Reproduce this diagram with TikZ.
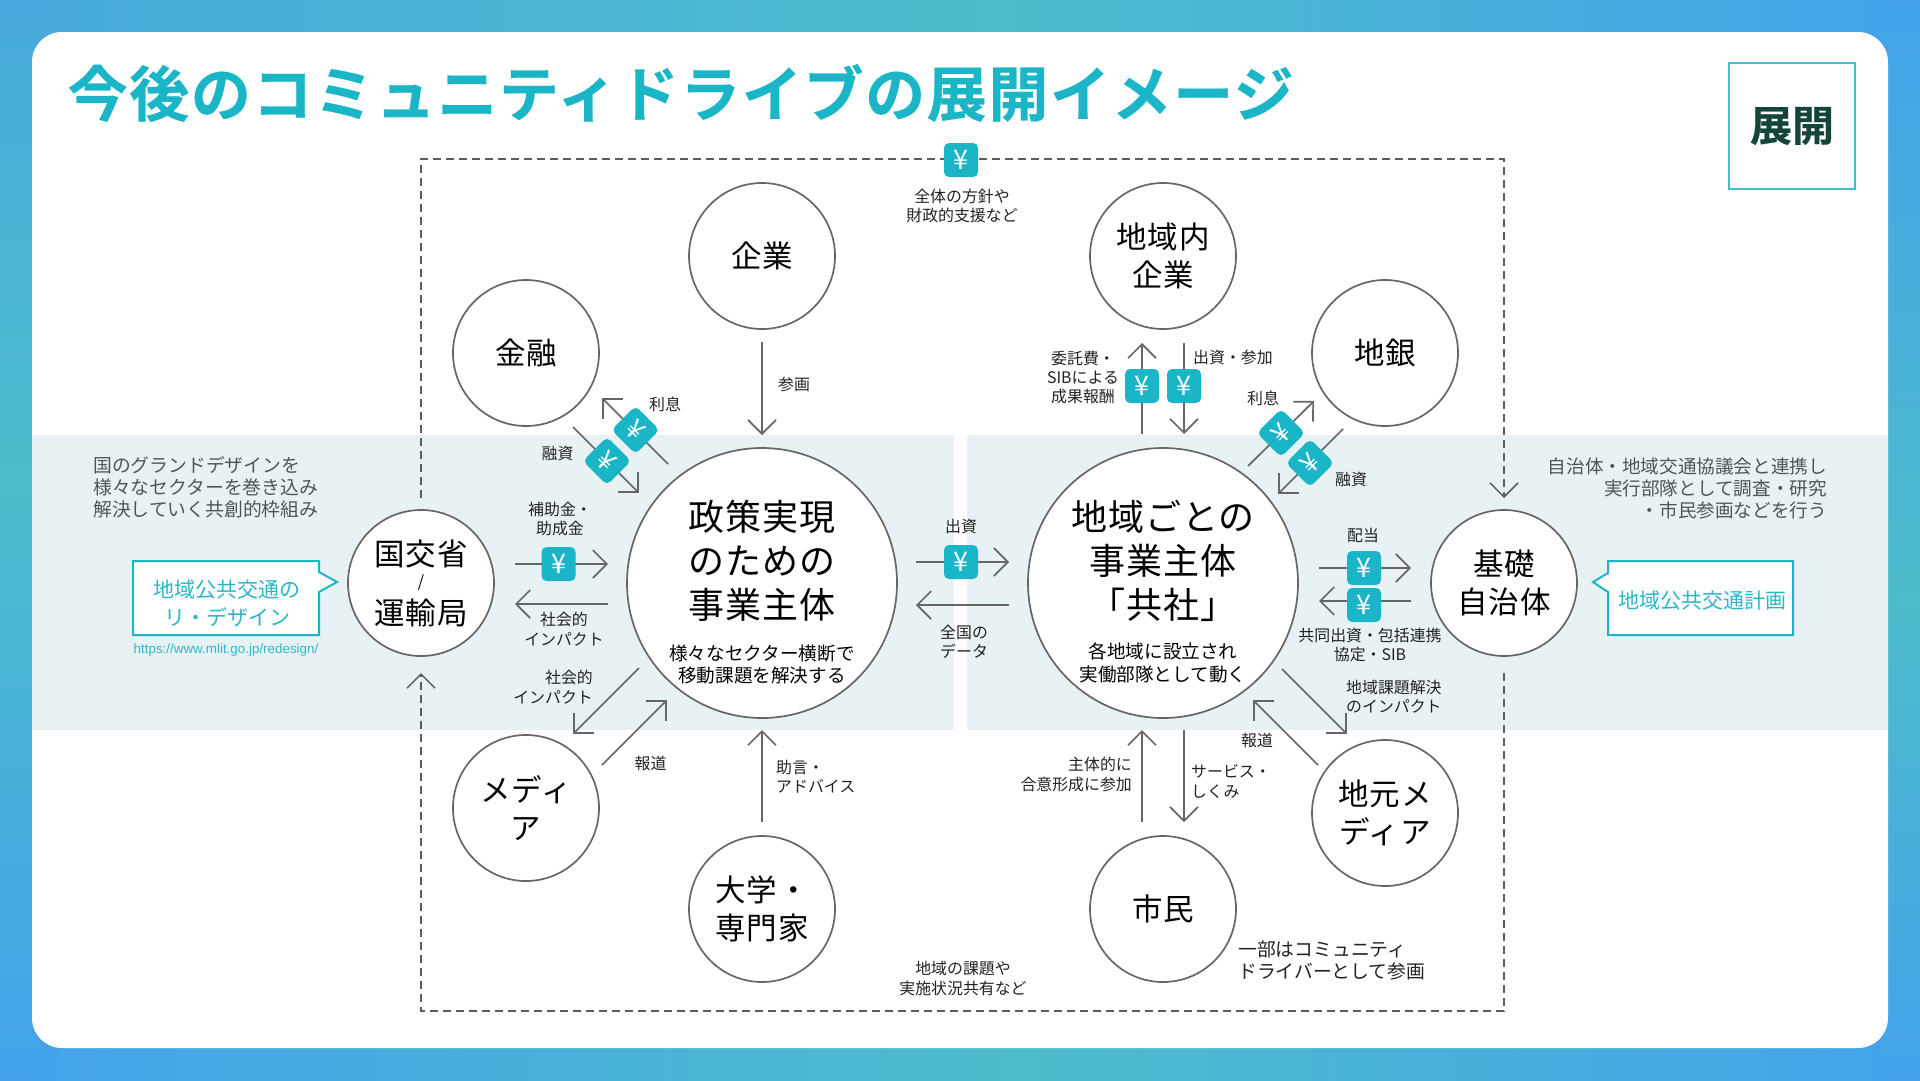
\documentclass[tikz,border=0pt]{standalone}
\usepackage{fontspec}
\setmainfont{Noto Sans CJK JP}
\newfontfamily\titlefont[LetterSpace=2.7,FakeBold=0.4]{Noto Sans CJK JP Bold}
\newfontfamily\tagfont[FakeBold=0.5]{Noto Sans CJK JP Bold}
\newfontfamily\widefont[LetterSpace=3]{Noto Sans CJK JP}
\newfontfamily\urlfont{Liberation Sans}
\usetikzlibrary{arrows.meta,shapes.geometric}
\definecolor{teal1}{HTML}{1AB5C6}
\definecolor{tealtext}{HTML}{2BB7C8}
\definecolor{bandc}{HTML}{E8F2F4}
\definecolor{linec}{HTML}{666666}
\definecolor{darkg}{HTML}{14453A}
\definecolor{labelc}{HTML}{222222}
\definecolor{descc}{HTML}{4F5558}
\definecolor{bgblue}{HTML}{43A2EA}
\definecolor{bgteal}{HTML}{4DBCCB}
\definecolor{bgmid}{HTML}{48AADC}
\newcommand{\fs}[2]{\fontsize{#1}{#2}\selectfont}
\tikzset{
  link/.style={draw=linec,line width=1.7pt,-{Straight Barb[length=14pt,width=28pt]}},
  frame/.style={draw=linec!90!black,line width=1.5pt,dash pattern=on 8pt off 5pt},
  smallc/.style={circle,draw=linec,line width=1.7pt,fill=white,minimum size=146pt,inner sep=0pt,outer sep=0pt,align=center,font=\widefont\fs{30.5}{38},text=black},
  bigc/.style={circle,draw=linec,line width=1.7pt,fill=white,minimum size=270pt,inner sep=0pt,outer sep=0pt},
  bigtxt/.style={inner sep=0pt,align=center,font=\widefont\fs{36}{44},text=black},
  subtxt/.style={inner sep=0pt,align=center,font=\fs{18.6}{22.5},text=black},
  yenbox/.style={rectangle,rounded corners=5pt,fill=teal1,minimum size=34pt,inner sep=0pt,text=white,font=\fs{27}{27}},
  lab/.style={inner sep=0pt,align=center,font=\fs{15.9}{19.4},text=labelc},
  labl/.style={lab,align=left,anchor=west},
  labr/.style={lab,align=right,anchor=east},
  desc/.style={inner sep=0pt,font=\fs{18.8}{22},text=descc},
  callout/.style={draw=teal1,line width=2pt,fill=white,line join=miter},
  calltxt/.style={inner sep=0pt,align=center,font=\fs{21}{28},text=tealtext},
}
\newcommand{\arrowlink}[3]{\coordinate (#1s) at (#2); \coordinate (#1e) at (#3); \draw[link] (#1s) -- (#1e);}
\begin{document}
\begin{tikzpicture}[x=1pt,y=-1pt]
\useasboundingbox (0,0) rectangle (1920,1080);
% background
\fill[bgteal] (0,0) rectangle (1920,1080);
\shade[left color=bgmid,right color=bgteal] (0,0) rectangle (1000,40);
\shade[left color=bgteal,right color=bgblue] (1000,0) rectangle (1920,40);
\shade[left color=bgblue,right color=bgteal] (0,1040) rectangle (1020,1080);
\shade[left color=bgteal,right color=bgblue] (1020,1040) rectangle (1920,1080);
\shade[top color=bgmid,bottom color=bgteal] (0,0) rectangle (40,480);
\shade[top color=bgteal,bottom color=bgblue] (0,480) rectangle (40,1080);
\shade[top color=bgblue,bottom color=bgteal] (1880,0) rectangle (1920,600);
\shade[top color=bgteal,bottom color=bgblue] (1880,600) rectangle (1920,1080);
% card
\fill[white,rounded corners=30pt] (32,32) rectangle (1888,1048);
% bands
\fill[bandc] (32,435) rectangle (954,730);
\fill[bandc] (967,435) rectangle (1888,730);
% dashed frame
\coordinate (fa) at (421,498);
\coordinate (fb) at (421,159);
\coordinate (fc) at (1504,159);
\coordinate (fd) at (1504,498);
\coordinate (fe) at (1504,673);
\coordinate (ff) at (1504,1011);
\coordinate (fg) at (421,1011);
\coordinate (fh) at (421,673);
\draw[frame,-{Straight Barb[length=14pt,width=28pt]}] (fa) -- (fb) -- (fc) -- (fd);
\draw[frame,-{Straight Barb[length=14pt,width=28pt]}] (fe) -- (ff) -- (fg) -- (fh);
% connectors
\arrowlink{a1}{762,342}{762,435}
\arrowlink{a2}{762,822}{762,730}
\arrowlink{a3}{573,427}{639,493}
\arrowlink{a4}{668,464}{602,398}
\arrowlink{a5}{639,668}{573,734}
\arrowlink{a6}{602,765}{667,700}
\arrowlink{a7}{515,564}{608,564}
\arrowlink{a8}{608,604}{515,604}
\arrowlink{a9}{916,562}{1009,562}
\arrowlink{a10}{1009,605}{916,605}
\arrowlink{a11}{1142,434}{1142,343}
\arrowlink{a12}{1184,343}{1184,434}
\arrowlink{a13}{1248,466}{1314,401}
\arrowlink{a14}{1343,429}{1278,494}
\arrowlink{a15}{1319,568}{1411,568}
\arrowlink{a16}{1411,601}{1319,601}
\arrowlink{a17}{1142,822}{1142,730}
\arrowlink{a18}{1184,730}{1184,822}
\arrowlink{a19}{1318,765}{1253,700}
\arrowlink{a20}{1282,669}{1347,734}
% circles
\node[smallc] (kigyo) at (762,256) {企業};
\node[smallc] (kinyu) at (526,353) {金融};
\node[smallc] (chikinai) at (1163,256) {地域内\\企業};
\node[smallc] (chigin) at (1385,353) {地銀};
\node[smallc] (media) at (526,808) {メディ\\ア};
\node[smallc] (daigaku) at (762,909) {大学・\\専門家};
\node[smallc] (shimin) at (1163,909) {市民};
\node[smallc] (jimoto) at (1385,813) {地元メ\\ディア};
\node[smallc] (kiso) at (1504,583) {基礎\\自治体};
\node[smallc] (kokko) at (421,583) {};
\node[inner sep=0pt,font=\widefont\fs{30.5}{36},text=black] (kokko1) at (421,554) {国交省};
\node[inner sep=0pt,font=\fs{16}{16},text=black] (kokko2) at (421,583) {/};
\node[inner sep=0pt,font=\widefont\fs{30.5}{36},text=black] (kokko3) at (421,613) {運輸局};
\node[bigc] (seisaku) at (762,583) {};
\node[bigc] (chiiki) at (1163,583) {};
\node[bigtxt] (seisakut) at (762,560.5) {政策実現\\のための\\事業主体};
\node[subtxt] (seisakus) at (762,664.5) {様々なセクター横断で\\移動課題を解決する};
\node[bigtxt] (chiikit) at (1163,560.5) {地域ごとの\\事業主体\\「共社」};
\node[subtxt] (chiikis) at (1163,663) {各地域に設立され\\実働部隊として動く};
% yen
\node[yenbox] (y0) at (961,160) {¥};
\node[yenbox] (y1) at (558.5,564) {¥};
\node[yenbox] (y2) at (961,562) {¥};
\node[yenbox] (y3) at (1364,568) {¥};
\node[yenbox] (y4) at (1364,605) {¥};
\node[yenbox] (y5) at (1142,386) {¥};
\node[yenbox] (y6) at (1184,386) {¥};
\node[yenbox,rotate=-45] (y7) at (607,461) {¥};
\node[yenbox,rotate=-45] (y8) at (635.5,430) {¥};
\node[yenbox,rotate=45] (y9) at (1281,433) {¥};
\node[yenbox,rotate=45] (y10) at (1310,463) {¥};
% title and tag
\node[inner sep=0pt,anchor=west,font=\titlefont\fs{60}{62},text=teal1] (title) at (67.5,93) {今後のコミュニティドライブの展開イメージ};
\node[draw=teal1!85!white,line width=1.6pt,fill=white,minimum size=126pt,inner sep=0pt,font=\tagfont\fs{42}{42},text=darkg] (tag) at (1792,126) {展開};
% descriptions
\node[desc,align=left,anchor=west] (dl) at (93,487.5) {国のグランドデザインを\\様々なセクターを巻き込み\\解決していく共創的枠組み};
\node[desc,align=right,anchor=east,font=\fs{18.6}{22}] (dr) at (1827,488) {自治体・地域交通協議会と連携し\\実行部隊として調査・研究\\・市民参画などを行う};
% callouts
\draw[callout] (133,561) -- (319,561) -- (319,572) -- (337,582) -- (319,592) -- (319,635) -- (133,635) -- cycle;
\node[calltxt] (cl) at (227,603) {地域公共交通の\\リ・デザイン};
\node[inner sep=0pt,font=\urlfont\fs{13.4}{15},text=tealtext] (url) at (226,650) {https://www.mlit.go.jp/redesign/};
\draw[callout] (1608,561) -- (1793,561) -- (1793,635) -- (1608,635) -- (1608,592) -- (1593,582) -- (1608,573) -- cycle;
\node[calltxt] (cr) at (1702,601) {地域公共交通計画};
% labels
\node[lab] (l1) at (962,206) {全体の方針や\\財政的支援など};
\node[labl] (l2) at (778,384) {参画};
\node[lab] (l3) at (665,404) {利息};
\node[lab] (l4) at (557.5,453) {融資};
\node[lab] (l5) at (560,519) {補助金・\\助成金};
\node[lab] (l6) at (564,629) {社会的\\インパクト};
\node[labr] (l7) at (593,687) {社会的\\インパクト};
\node[lab] (l8) at (650.5,763) {報道};
\node[labl] (l9) at (776,776.5) {助言・\\アドバイス};
\node[lab] (l10) at (961,526) {出資};
\node[labl] (l11) at (940,641.5) {全国の\\データ};
\node[lab] (l12) at (1083,377.5) {委託費・\\SIBによる\\成果報酬};
\node[labl] (l13) at (1193,357) {出資・参加};
\node[lab] (l14) at (1263,398) {利息};
\node[lab] (l15) at (1351,479) {融資};
\node[lab] (l16) at (1363,535) {配当};
\node[lab] (l17) at (1370,645) {共同出資・包括連携\\協定・SIB};
\node[labl] (l18) at (1346,696.5) {地域課題解決\\のインパクト};
\node[lab] (l19) at (1257,740) {報道};
\node[labr] (l20) at (1132,774.5) {主体的に\\合意形成に参加};
\node[labl] (l21) at (1191,781.5) {サービス・\\しくみ};
\node[lab] (l22) at (963,978.5) {地域の課題や\\実施状況共有など};
\node[desc,align=left,anchor=west,text=labelc] (l23) at (1238,960) {一部はコミュニティ\\ドライバーとして参画};
\end{tikzpicture}
\end{document}
